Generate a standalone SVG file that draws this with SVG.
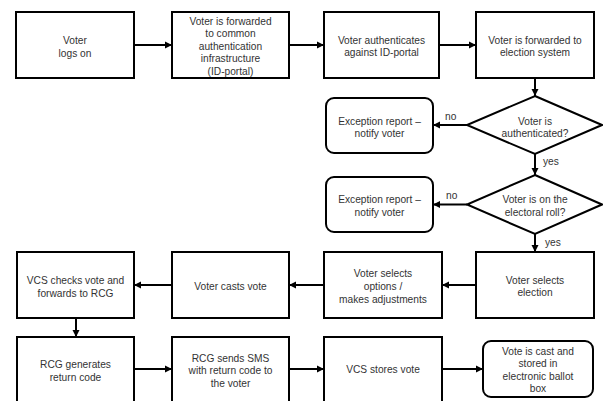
<svg xmlns="http://www.w3.org/2000/svg" width="603" height="401" viewBox="0 0 603 401">
<style>
.b{fill:#fff;stroke:#000;stroke-width:2}
.t{font-family:"Liberation Sans",Arial,sans-serif;font-size:10.2px;fill:#333;text-anchor:middle}
.l{font-family:"Liberation Sans",Arial,sans-serif;font-size:10.2px;fill:#333}
.c{fill:none;stroke:#000;stroke-width:2;marker-end:url(#a)}
</style>
<defs>
<marker id="a" markerUnits="userSpaceOnUse" markerWidth="8" markerHeight="8" refX="7" refY="4" orient="auto">
<path d="M0,0.5 L7,4 L0,7.5 Z" fill="#000"/>
</marker>
</defs>
<rect width="603" height="401" fill="#fff"/>
<g id="connectors">
<path class="c" d="M134,45 H172"/>
<path class="c" d="M289,45 H324"/>
<path class="c" d="M439,45 H476"/>
<path class="c" d="M535,78 V96"/>
<path class="c" d="M467,125 H433"/>
<path class="c" d="M535,154 V175"/>
<path class="c" d="M467,204.5 H433"/>
<path class="c" d="M535,234 V252"/>
<path class="c" d="M476,285 H442"/>
<path class="c" d="M324,285 H289"/>
<path class="c" d="M172,285 H134"/>
<path class="c" d="M76,318 V337"/>
<path class="c" d="M134,369 H172"/>
<path class="c" d="M289,369 H324"/>
<path class="c" d="M442,369 H483"/>
<text class="l" x="445" y="119.5">no</text>
<text class="l" x="543" y="165">yes</text>
<text class="l" x="446" y="199">no</text>
<text class="l" x="545" y="246">yes</text>
</g>
<g id="n1"><rect class="b" x="16" y="12" width="118" height="66"/>
<text class="t" x="75" y="43.5">Voter</text><text class="t" x="75" y="56.5">logs on</text></g>
<g id="n2"><rect class="b" x="172" y="12" width="117" height="66"/>
<text class="t" x="230.5" y="24.5">Voter is forwarded</text><text class="t" x="230.5" y="37">to common</text><text class="t" x="230.5" y="49.5">authentication</text><text class="t" x="230.5" y="62">infrastructure</text><text class="t" x="230.5" y="75">(ID-portal)</text></g>
<g id="n3"><rect class="b" x="324" y="12" width="115" height="66"/>
<text class="t" x="381.5" y="43.5">Voter authenticates</text><text class="t" x="381.5" y="56">against ID-portal</text></g>
<g id="n4"><rect class="b" x="476" y="12" width="118" height="66"/>
<text class="t" x="535" y="43.5">Voter is forwarded  to</text><text class="t" x="535" y="56">election system</text></g>
<g id="d1"><path class="b" d="M535,96 L602,125 L535,154 L467,125 Z"/>
<text class="t" x="535" y="124.5">Voter is</text><text class="t" x="535" y="137">authenticated?</text></g>
<g id="e1"><rect class="b" x="326" y="98" width="107" height="55" rx="8"/>
<text class="t" x="379.5" y="124.5">Exception report –</text><text class="t" x="379.5" y="137">notify voter</text></g>
<g id="d2"><path class="b" d="M535,175 L602,204.5 L535,234 L467,204.5 Z"/>
<text class="t" x="535" y="202.5">Voter is on the</text><text class="t" x="535" y="215.5">electoral roll?</text></g>
<g id="e2"><rect class="b" x="326" y="177" width="107" height="55" rx="8"/>
<text class="t" x="379.5" y="202.5">Exception report –</text><text class="t" x="379.5" y="215.5">notify voter</text></g>
<g id="n5"><rect class="b" x="476" y="252" width="118" height="66"/>
<text class="t" x="535" y="283.5">Voter selects</text><text class="t" x="535" y="296">election</text></g>
<g id="n6"><rect class="b" x="324" y="252" width="118" height="66"/>
<text class="t" x="383" y="276.5">Voter selects</text><text class="t" x="383" y="289.5">options /</text><text class="t" x="383" y="302.5">makes adjustments</text></g>
<g id="n7"><rect class="b" x="172" y="252" width="117" height="66"/>
<text class="t" x="230.5" y="289.5">Voter casts vote</text></g>
<g id="n8"><rect class="b" x="17" y="252" width="117" height="66"/>
<text class="t" x="75.5" y="283.5">VCS checks vote  and</text><text class="t" x="75.5" y="296.5">forwards  to RCG</text></g>
<g id="n9"><rect class="b" x="17" y="337" width="117" height="68"/>
<text class="t" x="75.5" y="367.5">RCG generates</text><text class="t" x="75.5" y="380.5">return code</text></g>
<g id="n10"><rect class="b" x="172" y="337" width="117" height="68"/>
<text class="t" x="230.5" y="361.5">RCG sends SMS</text><text class="t" x="230.5" y="374">with return  code to</text><text class="t" x="230.5" y="386.5">the voter</text></g>
<g id="n11"><rect class="b" x="324" y="337" width="118" height="68"/>
<text class="t" x="383" y="372.5">VCS stores vote</text></g>
<g id="n12"><rect class="b" x="483" y="341" width="110" height="56" rx="8"/>
<text class="t" x="538" y="354.5">Vote is cast and</text><text class="t" x="538" y="366.5">stored in</text><text class="t" x="538" y="379.5">electronic ballot</text><text class="t" x="538" y="391.5">box</text></g>
</svg>
